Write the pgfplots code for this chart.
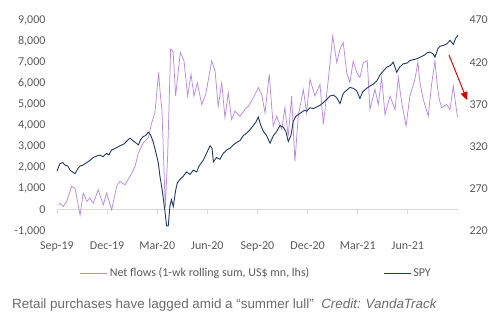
\documentclass[border=0pt]{standalone}
\usepackage{pgfplots}
\pgfplotsset{compat=1.18}
\usepackage{fontspec}
\setmainfont{Carlito}
\newfontfamily\capfont{Liberation Sans}
\usetikzlibrary{arrows.meta}
\definecolor{flow}{HTML}{B98AE4}
\definecolor{spy}{HTML}{203864}
\definecolor{lbl}{HTML}{595959}
\definecolor{zl}{HTML}{D9D9D9}
\definecolor{cap}{HTML}{6B6B6B}
\begin{document}
\begin{tikzpicture}[x=1pt,y=1pt]
\useasboundingbox (0,0) rectangle (503,323);
\pgfplotsset{base/.style={scale only axis, width=401pt, height=211pt,
  at={(57pt,92pt)}, anchor=south west, xmin=0, xmax=24, clip=false,
  font=\fontsize{12}{14}\selectfont, tick label style={color=lbl},
  axis line style={draw=none}, major tick length=0pt,
  /pgf/number format/assume math mode=true, /pgf/number format/1000 sep={,}}}
% zero line and tick marks
\draw[zl, line width=0.8pt] (57,113.1) -- (458,113.1);
\foreach \i in {0,...,7} {\draw[zl, line width=0.8pt] (57+50.125*\i,113.1) -- ++(0,-4);}
\begin{axis}[base, ymin=-1000, ymax=9000, ytick={-1000,0,...,9000},
  yticklabel style={xshift=-8pt},
  xtick={0,3,...,21}, xticklabels={Sep-19,Dec-19,Mar-20,Jun-20,Sep-20,Dec-20,Mar-21,Jun-21},
  xticklabel style={yshift=-7pt},
  legend style={at={(axis description cs:0.057,-0.199)}, anchor=west, draw=none, fill=none,
    inner sep=0pt, legend columns=2, font=\fontsize{12}{14}\selectfont, text=lbl},
  legend image code/.code={\draw[#1] (0,0) -- (27pt,0);},
  /tikz/every even column/.append style={column sep=72pt}]
\addplot[flow, line width=0.75pt] coordinates {
(0.1,250)(0.18,300)(0.38,160)(0.58,400)(0.88,1110)(1.08,1030)(1.38,-240)(1.57,800)(1.78,400)
(1.97,560)(2.17,320)(2.47,950)(2.77,240)(2.97,800)(3.27,0)(3.57,1110)(3.77,1350)(4.07,1190)
(4.37,1590)(4.67,2060)(4.87,2700)(5.16,3170)(5.46,3410)(5.67,4130)(5.86,4600)(6.08,6510)
(6.18,5500)(6.28,4760)(6.48,100)(6.62,2500)(6.8,7620)(6.95,7500)(7.1,5400)(7.38,7470)
(7.6,7060)(7.82,5400)(8.02,6430)(8.20,5400)(8.40,6030)(8.66,5000)(8.90,5480)(9.26,7060)
(9.46,6590)(9.65,4920)(9.86,6030)(10.05,4370)(10.25,5560)(10.45,4290)(10.65,4680)(10.95,4440)
(11.25,4760)(11.45,4920)(11.65,5160)(12.05,5790)(12.25,5480)(12.45,4600)(12.70,6430)(12.94,3970)
(13.15,4440)(13.45,3810)(13.64,4840)(13.84,3490)(14.04,5400)(14.24,2300)(14.44,4440)(14.74,5710)
(14.94,4600)(15.14,6190)(15.44,5400)(15.74,5950)(15.94,4050)(16.24,6190)(16.50,8250)(16.74,6990)
(16.94,7620)(17.13,7940)(17.34,6510)(17.53,6030)(17.73,7060)(17.94,6510)(18.13,6270)(18.33,6990)
(18.57,7060)(18.73,4760)(19.03,5710)(19.23,5000)(19.43,6270)(19.63,4520)(19.93,5400)(20.23,4760)
(20.43,6270)(20.63,5080)(20.89,3970)(21.12,5400)(21.42,6190)(21.60,7000)(21.72,6030)(21.92,5240)
(22.22,4440)(22.42,5950)(22.62,7060)(22.76,5870)(22.88,5240)(23.02,4840)(23.32,5000)(23.52,4760)
(23.72,5870)(23.82,5240)(23.97,4400)};
\addlegendentry{Net flows (1-wk rolling sum, US\$ mn, lhs)}
\addlegendimage{spy, line width=0.9pt}
\addlegendentry{SPY}
\end{axis}
\begin{axis}[base, ymin=220, ymax=470, ytick={220,270,...,470},
  yticklabel pos=right, yticklabel style={xshift=8pt}, hide x axis]
\addplot[spy, line width=0.9pt] coordinates {
(0,291)(0.18,300)(0.35,301)(0.48,298)(0.65,297)(0.78,292)(1.0,289)(1.08,288)(1.25,294)(1.38,297)
(1.55,298)(1.78,301)(2.0,304)(2.17,307)(2.4,309)(2.57,310)(2.75,308)(2.97,312)(3.1,310)(3.27,316)
(3.5,318)(3.77,321)(4.0,323)(4.2,327)(4.37,330)(4.55,327)(4.75,324)(4.87,322)(5.0,328)(5.16,332)
(5.3,333)(5.46,337)(5.6,334)(5.75,326)(5.97,309)(6.07,300)(6.16,285)(6.3,268)(6.45,245)(6.56,226)
(6.66,226)(6.76,250)(6.85,257)(6.96,249)(7.1,268)(7.2,277)(7.4,282)(7.56,285)(7.75,290)(7.96,287)
(8.15,292)(8.36,290)(8.5,297)(8.76,304)(8.95,312)(9.16,321)(9.28,318)(9.36,302)(9.55,307)(9.75,305)
(9.95,312)(10.16,316)(10.35,318)(10.55,322)(10.75,325)(10.95,327)(11.15,333)(11.35,336)(11.55,340)
(11.75,345)(11.9,349)(12.05,355)(12.2,345)(12.35,338)(12.55,333)(12.75,324)(12.95,333)(13.15,338)
(13.35,345)(13.54,343)(13.7,338)(13.84,326)(14.0,333)(14.14,350)(14.3,356)(14.44,358)(14.6,360)
(14.8,363)(14.95,362)(15.14,366)(15.35,365)(15.54,367)(15.75,369)(15.94,372)(16.15,376)(16.34,380)
(16.55,381)(16.74,378)(16.94,371)(17.13,383)(17.35,387)(17.53,390)(17.75,389)(17.94,386)(18.13,377)
(18.3,385)(18.53,389)(18.75,392)(18.93,394)(19.15,398)(19.33,405)(19.55,410)(19.73,414)(19.95,416)
(20.13,420)(20.33,408)(20.5,414)(20.72,418)(20.95,419)(21.12,422)(21.33,423)(21.53,424)(21.75,426)
(21.95,428)(22.15,431)(22.32,432)(22.5,430)(22.62,426)(22.8,436)(22.92,439)(23.15,440)(23.35,442)
(23.52,446)(23.72,441)(23.85,448)(24.0,452)};
\end{axis}
\draw[red!85!black, line width=1pt, -{Triangle[length=8pt,width=7pt]}] (449,268) -- (467,223);
\node[anchor=west, inner sep=0pt, text=cap, font=\capfont\fontsize{13.4}{15}\selectfont] at (12,18)
  {Retail purchases have lagged amid a “summer lull”\ \ \itshape Credit: VandaTrack};
\end{tikzpicture}
\end{document}
